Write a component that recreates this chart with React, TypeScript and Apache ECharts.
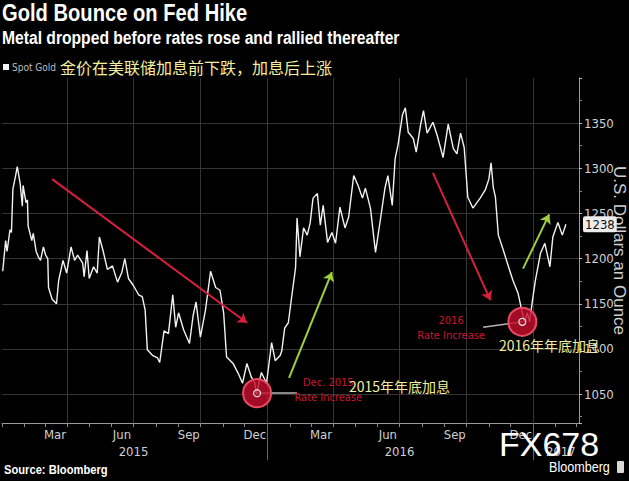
import React, { useEffect, useRef } from "react";
import * as echarts from "echarts";

// ---- data ----
const priceDates = [
  "2015-01-02","2015-01-06","2015-01-08","2015-01-12","2015-01-14","2015-01-16","2015-01-20","2015-01-22","2015-01-26","2015-01-29",
  "2015-01-30","2015-02-03","2015-02-05","2015-02-06","2015-02-11","2015-02-13","2015-02-17","2015-02-20","2015-02-23","2015-02-27",
  "2015-03-02","2015-03-05","2015-03-06","2015-03-11","2015-03-17","2015-03-20","2015-03-26","2015-03-31","2015-04-06","2015-04-11",
  "2015-04-15","2015-04-22","2015-04-24","2015-04-28","2015-05-01","2015-05-07","2015-05-12","2015-05-15","2015-05-20","2015-05-26",
  "2015-06-02","2015-06-09","2015-06-15","2015-06-19","2015-06-24","2015-07-01","2015-07-08","2015-07-13","2015-07-17","2015-07-20",
  "2015-07-27","2015-08-03","2015-08-06","2015-08-12","2015-08-18","2015-08-24","2015-08-28","2015-09-01","2015-09-08","2015-09-16",
  "2015-09-21","2015-09-25","2015-10-01","2015-10-08","2015-10-15","2015-10-22","2015-10-28","2015-11-02","2015-11-06","2015-11-15",
  "2015-11-22","2015-11-28","2015-12-04","2015-12-10","2015-12-15","2015-12-17","2015-12-24","2015-12-31","2016-01-07","2016-01-12",
  "2016-01-19","2016-01-21","2016-01-25","2016-01-30","2016-02-04","2016-02-09","2016-02-11","2016-02-15","2016-02-20","2016-02-25",
  "2016-02-29","2016-03-04","2016-03-10","2016-03-14","2016-03-18","2016-03-24","2016-03-30","2016-04-04","2016-04-10","2016-04-17",
  "2016-04-22","2016-04-29","2016-05-05","2016-05-11","2016-05-15","2016-05-22","2016-05-29","2016-06-05","2016-06-11","2016-06-15",
  "2016-06-21","2016-06-25","2016-06-29","2016-07-05","2016-07-09","2016-07-13","2016-07-20","2016-07-24","2016-07-30","2016-08-03",
  "2016-08-08","2016-08-16","2016-08-22","2016-08-30","2016-09-06","2016-09-13","2016-09-18","2016-09-23","2016-09-28","2016-10-03",
  "2016-10-10","2016-10-20","2016-10-27","2016-11-01","2016-11-04","2016-11-07","2016-11-10","2016-11-14","2016-11-21","2016-11-28",
  "2016-12-04","2016-12-11","2016-12-17","2016-12-20","2016-12-24","2016-12-27","2016-12-31","2017-01-04","2017-01-11","2017-01-17",
  "2017-01-24","2017-01-28","2017-02-04","2017-02-10","2017-02-15",
];
const prices = [
  1186,1220,1208,1232,1229,1277,1293,1302,1283,1258,
  1281,1262,1265,1236,1220,1228,1208,1202,1198,1213,
  1204,1200,1168,1155,1150,1176,1198,1184,1213,1198,
  1204,1195,1180,1209,1178,1191,1184,1224,1209,1188,
  1192,1174,1185,1200,1178,1170,1160,1158,1143,1099,
  1093,1090,1085,1120,1117,1160,1124,1140,1121,1106,
  1137,1152,1113,1143,1186,1168,1165,1140,1091,1084,
  1073,1062,1084,1069,1062,1050,1074,1062,1107,1087,
  1093,1098,1123,1129,1160,1190,1245,1202,1234,1226,
  1239,1267,1272,1237,1259,1218,1229,1217,1257,1234,
  1246,1292,1281,1267,1278,1256,1207,1245,1278,1292,
  1259,1311,1326,1359,1367,1340,1333,1318,1348,1364,
  1339,1351,1336,1312,1349,1322,1316,1339,1323,1268,
  1256,1267,1276,1288,1306,1279,1268,1226,1209,1191,
  1176,1162,1140,1130,1140,1130,1154,1176,1206,1217,
  1191,1224,1240,1226,1238,
];

const monthLabelMonths = ["03", "06", "09", "12"];
const monthLabels = ["Mar", "Jun", "Sep", "Dec"];
const yearLabelDates = ["2015-07-01", "2016-07-01", "2017-02-08"];
const yearLabels = ["2015", "2016", "2017"];

// annotations (data space)
const redArrows = [
  [["2015-03-11", 1288], ["2015-12-04", 1129]],
  [["2016-08-16", 1295], ["2016-11-03", 1154]],
];
const greenArrows = [
  [["2016-01-31", 1068], ["2016-03-30", 1185]],
  [["2016-12-18", 1189], ["2017-01-23", 1249]],
];
const hikePoints = [["2015-12-18", 1051], ["2016-12-17", 1130]];
const hikeConnectors = [
  [["2015-12-18", 1051], ["2016-02-11", 1051]],
  [["2016-10-24", 1124], ["2016-12-17", 1130]],
];
const hikeTextPoints = [["2016-03-25", 1054], ["2016-09-10", 1123]];
const hikeTexts = ["Dec. 2015\nRate Increase", "2016\nRate Increase"];

const AXIS_START = Date.UTC(2015, 0, 1);
const AXIS_DAYS = 795;

const NARROW = '"Liberation Sans Narrow", "DejaVu Sans Condensed", "Arial Narrow", "Liberation Sans", sans-serif';
const SANS = '"Liberation Sans", Arial, sans-serif';
const CJK = '"Noto Sans CJK SC", sans-serif';

export default function App() {
  const ref = useRef<HTMLDivElement>(null);
  useEffect(() => {
    if (!ref.current) return;
    const chart = echarts.init(ref.current, null, { renderer: "svg" });
    const days: string[] = [];
    for (let i = 0; i < AXIS_DAYS; i++) {
      days.push(new Date(AXIS_START + i * 86400000).toISOString().slice(0, 10));
    }
    const last = prices[prices.length - 1];
    const arrowItem = (pair: any, color: string) => [
      { coord: pair[0], symbol: "none", lineStyle: { color, width: 2, type: "solid" } },
      { coord: pair[1], symbol: "arrow", symbolSize: 9, lineStyle: { color, width: 2, type: "solid" } },
    ];
    const option: any = {
      animation: false,
      backgroundColor: "#000",
      legend: {
        data: ["Spot Gold"],
        left: 3, top: 62, padding: 0,
        icon: "rect", itemWidth: 6, itemHeight: 6, itemGap: 4,
        textStyle: { color: "#bdbdbd", fontSize: 10, fontFamily: NARROW, padding: [0, 0, 0, -2] },
      },
      grid: { left: 2, right: 50, top: 78, bottom: 58, containLabel: false, outerBoundsMode: "none" },
      xAxis: [
        {
          type: "category",
          data: days,
          boundaryGap: false,
          position: "bottom",
          axisLine: { show: true, lineStyle: { color: "#9a9a9a", width: 1 } },
          axisTick: {
            show: true, length: 4, lineStyle: { color: "#888" },
            interval: (_i: number, v: string) => v.slice(8) === "01",
          },
          axisLabel: {
            show: true, color: "#cfcfcf", fontSize: 13, fontFamily: NARROW, margin: 5,
            interval: (_i: number, v: string) => v.slice(8) === "15" && monthLabelMonths.includes(v.slice(5, 7)),
            formatter: (v: string) => monthLabels[monthLabelMonths.indexOf(v.slice(5, 7))],
          },
          splitLine: {
            show: true, lineStyle: { color: "#353535", width: 1 },
            interval: (_i: number, v: string) => v.slice(8) === "01" && ["01", "04", "07", "10"].includes(v.slice(5, 7)) && v !== "2015-01-01",
          },
        },
        {
          type: "category",
          data: days,
          boundaryGap: false,
          position: "bottom",
          axisLine: { show: false },
          axisTick: {
            show: true, length: 37, lineStyle: { color: "#666" },
            interval: (_i: number, v: string) => v.slice(5) === "01-01" && v !== "2015-01-01",
          },
          axisLabel: {
            show: true, color: "#cfcfcf", fontSize: 13, fontFamily: NARROW, margin: 22,
            interval: (_i: number, v: string) => yearLabelDates.includes(v),
            formatter: (v: string) => yearLabels[yearLabelDates.indexOf(v)],
          },
          splitLine: { show: false },
        },
      ],
      yAxis: {
        type: "value",
        position: "right",
        min: 1018,
        max: 1400,
        splitNumber: 8,
        name: "U.S. Dollars an Ounce",
        nameLocation: "middle",
        nameRotate: -90,
        nameGap: 32,
        nameMoveOverlap: false,
        nameTextStyle: { color: "#cfcfcf", fontSize: 17, fontFamily: SANS },
        axisLine: { show: true, lineStyle: { color: "#9a9a9a", width: 1 } },
        axisTick: { show: true, length: 3, lineStyle: { color: "#bbb" } },
        minorTick: { show: true, splitNumber: 2, length: 3, lineStyle: { color: "#888" } },
        axisLabel: {
          color: "#d2d2d2", fontSize: 13, fontFamily: NARROW, margin: 5,
          showMinLabel: false, showMaxLabel: false,
          formatter: (v: number) => String(v),
        },
        splitLine: { show: true, showMinLine: false, showMaxLine: false, lineStyle: { color: "#353535", width: 1 } },
      },
      series: [
        {
          name: "Spot Gold",
          type: "line",
          data: priceDates.map((d, i) => [d, prices[i]]),
          showSymbol: false,
          symbol: "none",
          itemStyle: { color: "#f2f2f2" },
          lineStyle: { color: "#f2f2f2", width: 1.4 },
          markLine: {
            silent: true,
            animation: false,
            symbol: ["none", "none"],
            label: { show: false },
            data: [
              ...redArrows.map((p) => arrowItem(p, "#d8203c")),
              ...greenArrows.map((p) => arrowItem(p, "#9fcf3e")),
              ...hikeConnectors.map((p) => [
                { coord: p[0], symbol: "none", lineStyle: { color: "#b5b5b5", width: 1.5, type: "solid" } },
                { coord: p[1], symbol: "none", lineStyle: { color: "#b5b5b5", width: 1.5, type: "solid" } },
              ]),
              {
                yAxis: last,
                symbol: "none",
                lineStyle: { color: "rgba(0,0,0,0)", width: 0 },
                label: {
                  show: true, position: "end", distance: 4, formatter: String(last), opacity: 1,
                  color: "#111", backgroundColor: "#ececec", padding: [2, 2, 1, 2],
                  borderRadius: 2, fontSize: 13, fontFamily: NARROW,
                },
              },
            ],
          },
          markPoint: {
            silent: true,
            animation: false,
            data: [
              ...hikePoints.map((c) => ({
                coord: c, symbol: "circle", symbolSize: 28,
                itemStyle: { color: "rgba(196,14,44,0.82)", borderColor: "#ea4a64", borderWidth: 2 },
                label: { show: false },
              })),
              ...hikePoints.map((c) => ({
                coord: c, symbol: "circle", symbolSize: 7,
                itemStyle: { color: "rgba(0,0,0,0)", borderColor: "#e0e0e0", borderWidth: 1.2 },
                label: { show: false },
              })),
              ...hikeTextPoints.map((c, i) => ({
                coord: c, symbol: "circle", symbolSize: 0,
                label: {
                  show: true, position: "inside", formatter: hikeTexts[i],
                  color: "#cc1430", fontSize: 11, lineHeight: 15, fontFamily: NARROW, align: "center",
                },
              })),
            ],
          },
        },
      ],
      graphic: [
        {
          type: "text", x: 2, y: 1, scaleX: 0.84, z: 100,
          style: { text: "Gold Bounce on Fed Hike", fill: "#fff", font: `bold 24px ${SANS}`, verticalAlign: "top", align: "left" },
        },
        {
          type: "text", x: 2, y: 29, scaleX: 0.87, z: 100,
          style: { text: "Metal dropped before rates rose and rallied thereafter", fill: "#fff", font: `bold 18px ${SANS}`, verticalAlign: "top", align: "left" },
        },
        {
          type: "text", left: 60, top: 59, z: 100,
          style: { text: "金价在美联储加息前下跌，加息后上涨", fill: "#f3ee9d", font: `16px ${CJK}` },
        },
        {
          type: "text", left: 349, top: 379, z: 100,
          style: { text: "2015年年底加息", fill: "#f3ee9d", font: `14px ${CJK}` },
        },
        {
          type: "text", left: 499, top: 338, z: 100,
          style: { text: "2016年年底加息", fill: "#f3ee9d", font: `14px ${CJK}` },
        },
        {
          type: "text", x: 4, y: 463, scaleX: 0.86, z: 100,
          style: { text: "Source: Bloomberg", fill: "#fff", font: `bold 13px ${SANS}`, verticalAlign: "top", align: "left" },
        },
        {
          type: "text", x: 549, y: 460, scaleX: 0.9, z: 100,
          style: { text: "Bloomberg", fill: "#fff", font: `14px ${SANS}`, verticalAlign: "top", align: "left" },
        },
        {
          type: "rect", left: 617, top: 461, z: 100,
          shape: { width: 7, height: 12, r: 1 },
          style: { fill: "#d8d8d8" },
        },
        {
          type: "text", left: 499, top: 427, z: 100,
          style: { text: "FX678", fill: "#fff", font: `34px ${SANS}` },
        },
      ],
    };
    chart.setOption(option);
    return () => chart.dispose();
  }, []);
  return (
    <div
      ref={ref}
      style={{ position: "fixed", left: 0, top: 0, width: 629, height: 481, background: "#000" }}
    />
  );
}
